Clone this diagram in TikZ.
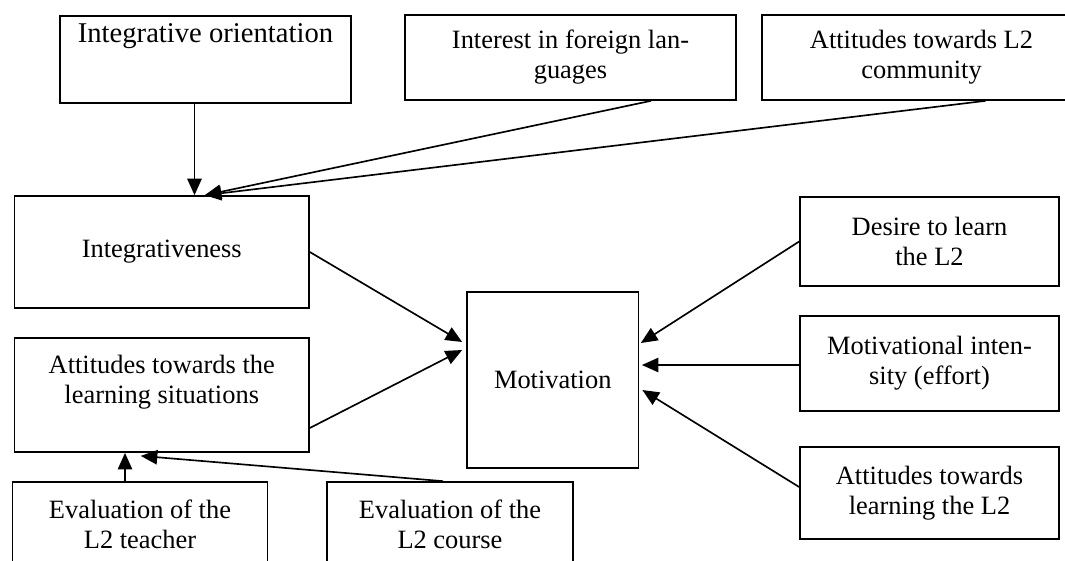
\documentclass[tikz,border=0pt]{standalone}
\usepackage{fontspec}
\setmainfont{Liberation Serif}
\usetikzlibrary{arrows.meta,positioning,calc}

\begin{document}
\begin{tikzpicture}[x=0.454pt,y=-0.454pt,
  box/.style={draw,line width=0.75pt,inner sep=0pt,align=center,font=\fontsize{12}{13.6}\selectfont},
  txt/.style={inner sep=0pt,align=center,font=\fontsize{12}{13.6}\selectfont},
  arr/.style={-{Triangle[length=7.5pt,width=6.5pt]},line width=0.75pt}]
\useasboundingbox (0,0) rectangle (1065,560);
\clip (0,0) rectangle (1065,560);

% top row
\node[box,minimum width=132.1pt,minimum height=39.5pt] (io) at (205.5,59.5) {};
\node[txt,anchor=base,font=\fontsize{13}{15}\selectfont] (io-t) at ($(io.north)+(0,27)$) {Integrative orientation};
\node[box,minimum width=150.3pt,minimum height=38.6pt] (interest) at (570.5,57.5) {Interest in foreign lan-\\guages};
\node[box,minimum width=144.8pt,minimum height=38.6pt] (comm) at (921.5,57.5) {Attitudes towards L2\\community};

% left column
\node[box,minimum width=133.7pt,minimum height=50.8pt] (integ) at (161.75,252) {Integrativeness};
\node[box,minimum width=133.7pt,minimum height=51.8pt] (sit) at (161.75,395) {};
\node[txt,anchor=north] (sit-t) at ($(sit.north)+(0,18)$) {Attitudes towards the\\learning situations};
\node[box,minimum width=115.8pt,minimum height=53.6pt] (teach) at (140,541) {};
\node[txt,anchor=north] (teach-t) at ($(teach.north)+(0,18)$) {Evaluation of the\\L2 teacher};
\node[box,minimum width=111.7pt,minimum height=53.6pt] (course) at (450,541) {};
\node[txt,anchor=north] (course-t) at ($(course.north)+(0,18)$) {Evaluation of the\\L2 course};

% centre and right column
\node[box,minimum width=77.9pt,minimum height=79.9pt] (motiv) at (552.75,380) {Motivation};
\node[box,minimum width=117.6pt,minimum height=40.4pt] (desire) at (929.5,241.5) {Desire to learn\\the L2};
\node[box,minimum width=117.6pt,minimum height=43.1pt] (intens) at (929.5,363.5) {Motivational inten-\\sity (effort)};
\node[box,minimum width=117.6pt,minimum height=41.8pt] (learn) at (929.5,493) {Attitudes towards\\learning the L2};

% arrows into Integrativeness
\coordinate (io-out) at ($(io.south)+(-11,0)$);
\coordinate (integ-in) at ($(integ.north)+(43,0)$);
\draw[arr] (io-out) -- (io-out |- integ.north);
\draw[arr] ($(interest.south)+(80.5,0)$) -- (integ-in);
\draw[arr] ($(comm.south)+(64,0)$) -- (integ-in);

% arrows into Motivation
\draw[arr] (integ.east) -- ($(motiv.west)+(-4,-38)$);
\draw[arr] ($(sit.east)+(0,33)$) -- ($(motiv.west)+(-4,-30)$);
\draw[arr] (desire.west) -- ($(motiv.east)+(1.5,-37)$);
\draw[arr] ($(intens.west)+(0,1.5)$) -- ($(motiv.east)+(2.5,-15)$);
\draw[arr] ($(learn.west)+(0,-6)$) -- ($(motiv.east)+(3,10)$);

% arrows into the learning situations
\coordinate (teach-out) at ($(teach.north)+(-15,0)$);
\draw[arr] (teach-out) -- (teach-out |- sit.south);
\draw[arr] ($(course.north)+(-7,0)$) -- ($(sit.south)+(-21,3)$);
\end{tikzpicture}
\end{document}
